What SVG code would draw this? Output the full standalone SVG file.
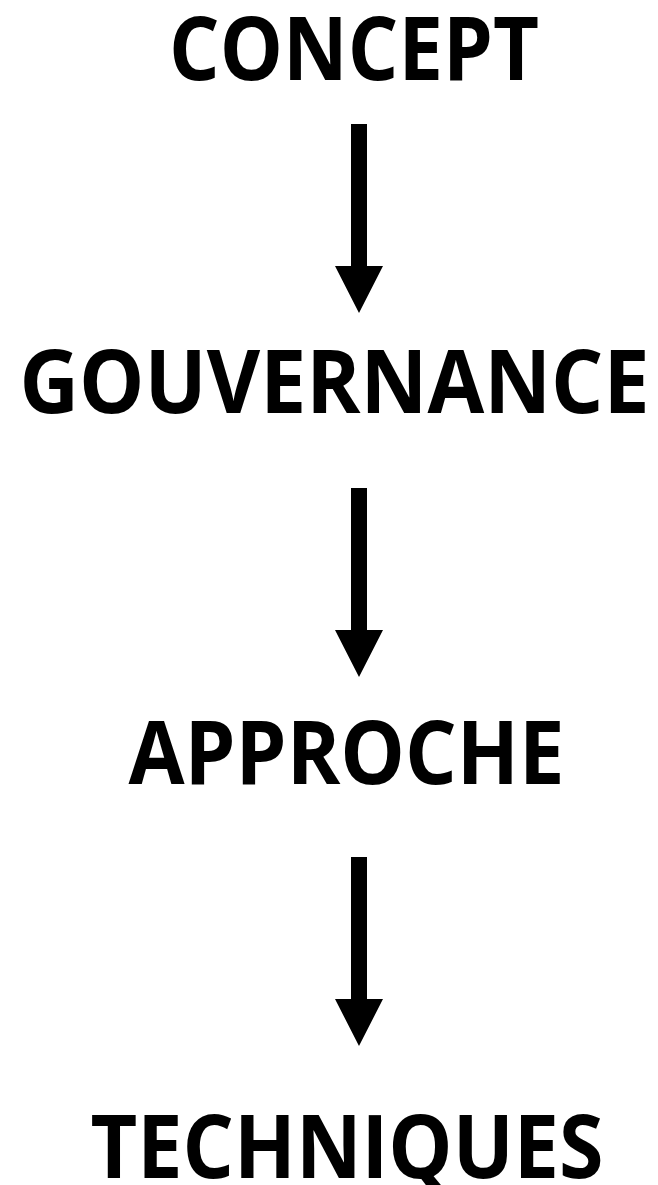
<svg xmlns="http://www.w3.org/2000/svg" width="658" height="1185" viewBox="0 0 658 1185">
<style>
.lbl{font-family:"Open Sans","Liberation Sans",sans-serif;font-weight:bold;font-size:87px;fill:#000;text-anchor:middle}
.arr{fill:#000}
</style>
<defs>
<path id="arrow" d="M351,0 H367 V142 H383 L359,189 L335,142 H351 Z"/>
</defs>
<rect width="658" height="1185" fill="#fff"/>
<g id="connectors">
<use href="#arrow" class="arr" transform="translate(0,124)"/>
<use href="#arrow" class="arr" transform="translate(0,488)"/>
<use href="#arrow" class="arr" transform="translate(0,857)"/>
</g>
<g id="concept"><text class="lbl" x="354" y="80" textLength="370" lengthAdjust="spacingAndGlyphs">CONCEPT</text></g>
<g id="gouvernance"><text class="lbl" x="334.5" y="413" textLength="630" lengthAdjust="spacingAndGlyphs">GOUVERNANCE</text></g>
<g id="approche"><text class="lbl" x="346.5" y="784" textLength="436" lengthAdjust="spacingAndGlyphs">APPROCHE</text></g>
<g id="techniques"><text class="lbl" x="347" y="1178" textLength="513" lengthAdjust="spacingAndGlyphs">TECHNIQUES</text></g>
</svg>
